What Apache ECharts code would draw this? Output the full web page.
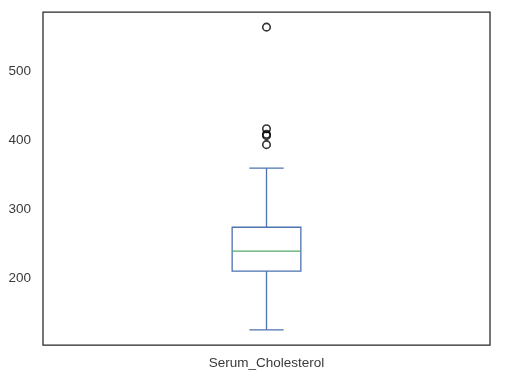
<!DOCTYPE html>
<html>
<head>
<meta charset="utf-8">
<script src="https://cdn.jsdelivr.net/npm/echarts@6/dist/echarts.min.js"></script>
<style>html,body{margin:0;padding:0;background:#fff;}#c{width:506px;height:376px;}</style>
</head>
<body>
<div id="c"></div>
<script>
var categories = ['Serum_Cholesterol'];
// [min whisker, Q1, median, Q3, max whisker]
var boxStats = [[126, 211, 240, 274.5, 360]];
var outlierValues = [564, 417, 409, 407, 394];
var yTicks = [200, 300, 400, 500];

var chart = echarts.init(document.getElementById('c'), null, {renderer: 'canvas'});
var textColor = '#3a3a3a';
var font = 'Liberation Sans, Arial, Helvetica, sans-serif';
var boxColor = '#4C72B0';
var medColor = '#55A868';

var customData = boxStats.map(function (s, i) { return [i].concat(s); });
var outlierData = outlierValues.map(function (v) { return [0, v]; });

chart.setOption({
  animation: false,
  backgroundColor: '#ffffff',
  grid: {left: 43, right: 16, top: 12, bottom: 31, show: true, borderColor: '#262626', borderWidth: 1.25, backgroundColor: 'transparent'},
  xAxis: {
    type: 'category', data: categories, boundaryGap: true,
    axisLine: {show: false}, axisTick: {show: false}, splitLine: {show: false},
    axisLabel: {color: textColor, fontSize: 13.5, fontFamily: font, margin: 11}
  },
  yAxis: {
    type: 'value', min: 104.1, max: 585.9,
    axisLine: {show: false}, axisTick: {show: false}, splitLine: {show: false},
    axisLabel: {color: textColor, fontSize: 13.5, fontFamily: font, margin: 12, customValues: yTicks, padding: [3, 0, 0, 0]}
  },
  series: [
    {
      type: 'custom',
      data: customData,
      renderItem: function (params, api) {
        var x = api.value(0);
        var band = api.size([1, 0])[0];
        var bw = band * 0.1537;
        var cw = bw / 2;
        var pMin = api.coord([x, api.value(1)]);
        var pQ1 = api.coord([x, api.value(2)]);
        var pMed = api.coord([x, api.value(3)]);
        var pQ3 = api.coord([x, api.value(4)]);
        var pMax = api.coord([x, api.value(5)]);
        var cx = pMed[0];
        var ls = {stroke: boxColor, lineWidth: 1.3, fill: null};
        return {
          type: 'group',
          children: [
            {type: 'line', shape: {x1: cx, y1: pQ3[1], x2: cx, y2: pMax[1]}, style: ls},
            {type: 'line', shape: {x1: cx, y1: pQ1[1], x2: cx, y2: pMin[1]}, style: ls},
            {type: 'line', shape: {x1: cx - cw / 2, y1: pMax[1], x2: cx + cw / 2, y2: pMax[1]}, style: ls},
            {type: 'line', shape: {x1: cx - cw / 2, y1: pMin[1], x2: cx + cw / 2, y2: pMin[1]}, style: ls},
            {type: 'rect', shape: {x: cx - bw / 2, y: pQ3[1], width: bw, height: pQ1[1] - pQ3[1]}, style: ls},
            {type: 'line', shape: {x1: cx - bw / 2, y1: pMed[1], x2: cx + bw / 2, y2: pMed[1]}, style: {stroke: medColor, lineWidth: 1.3}}
          ]
        };
      }
    },
    {
      type: 'scatter',
      data: outlierData,
      symbol: 'circle',
      symbolSize: 7.5,
      itemStyle: {color: 'rgba(255,255,255,0)', borderColor: '#000000', borderWidth: 1.6}
    }
  ]
});
</script>
</body>
</html>
